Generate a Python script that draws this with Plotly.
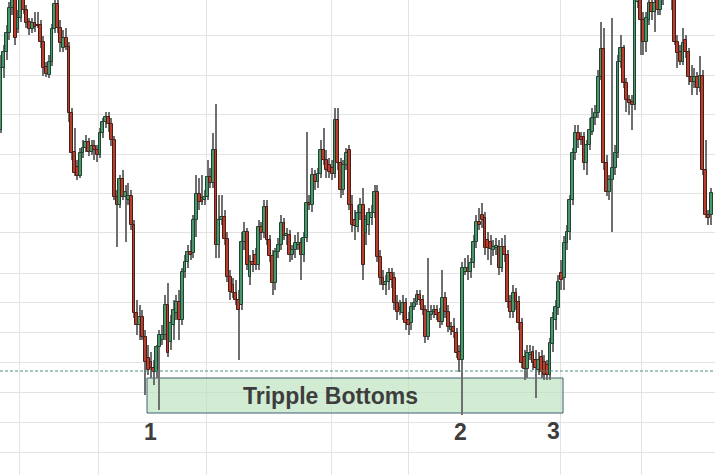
import plotly.graph_objects as go

# OHLC prices (arbitrary price units), one candle per period
open_ = [370,432,448,467,492,504,471,482,502,490,478,471,477,475,475,458,433,425,438,471,
         496,472,452,462,453,387,348,333,324,347,352,358,348,354,350,345,367,378,383,376,
         360,303,295,321,303,300,304,275,187,175,183,163,142,138,132,128,153,160,165,195,
         158,175,187,198,180,228,238,248,247,280,306,302,300,303,323,317,350,255,280,283,
         261,223,215,207,200,195,258,268,223,238,245,235,273,267,293,260,244,217,248,255,
         277,264,265,245,250,255,257,245,262,297,295,325,318,326,350,340,335,332,326,380,
         337,310,335,350,295,280,273,287,295,267,275,282,287,308,243,222,215,218,227,222,
         197,192,187,197,180,177,193,198,205,200,190,163,185,188,190,187,178,202,188,170,
         173,167,148,140,228,232,228,237,258,278,285,282,260,258,250,252,253,232,253,245,
         198,188,207,198,177,143,131,145,148,140,130,143,138,135,125,156,180,192,227,222,
         257,268,300,347,367,363,363,337,355,368,382,387,423,451,337,308,320,332,347,438,
         452,417,400,398,395,498,500,480,458,480,497,488,500,490,502,515,512,520,505,458,
         448,438,460,448,423,418,423,412,424,330,285,285]
high = [445,455,475,498,510,508,490,510,508,495,482,482,488,488,480,464,438,445,476,503,
        503,480,470,472,458,392,372,340,352,360,365,362,360,360,355,372,382,388,388,382,
        364,310,325,330,315,317,310,280,200,195,190,170,155,148,140,155,170,175,205,217,
        185,200,205,210,232,245,255,260,285,325,322,325,310,340,332,367,396,305,305,290,
        268,230,222,220,210,268,278,272,245,250,252,280,278,300,300,265,250,252,262,285,
        282,272,270,255,265,268,262,268,368,305,332,330,332,360,372,350,342,340,392,392,
        342,340,352,355,305,290,295,302,312,285,292,295,315,315,250,230,225,232,232,228,
        205,200,205,202,188,198,202,210,210,205,195,242,195,195,195,192,230,208,195,178,
        182,172,155,238,242,245,242,265,285,292,297,288,268,265,260,262,260,262,265,250,
        205,215,212,204,182,150,155,155,154,150,148,150,145,140,162,188,200,225,240,264,
        275,305,352,375,375,368,368,360,382,392,395,430,478,472,345,325,482,355,445,465,
        455,422,405,405,510,512,505,488,488,503,502,502,505,505,520,520,525,525,510,465,
        455,472,465,452,435,432,428,444,430,360,290,312]
low = [367,422,440,460,485,455,467,478,486,472,465,467,468,472,452,424,423,422,434,467,
       467,448,448,450,378,340,324,320,322,342,348,344,345,340,338,342,362,372,368,354,
       300,253,292,300,258,295,270,182,165,160,160,105,125,122,115,122,90,155,160,143,
       150,160,180,160,175,222,232,240,242,263,290,295,295,300,312,312,242,242,275,255,
       218,200,202,195,140,190,250,230,215,228,230,230,260,262,255,238,205,210,242,250,
       260,255,238,240,242,250,220,238,258,290,288,310,312,322,335,322,322,320,322,330,
       302,305,330,290,268,260,268,280,220,255,265,275,282,238,215,210,205,210,212,190,
       180,185,180,170,165,170,190,195,195,185,157,160,180,182,180,172,175,182,168,165,
       162,142,128,85,225,220,222,232,252,270,272,245,240,235,244,245,225,228,238,192,
       182,182,190,170,132,120,122,140,130,102,125,122,120,120,120,148,170,185,210,210,
       250,260,295,340,352,355,330,325,350,365,375,382,420,330,304,300,268,325,342,432,
       412,388,385,370,390,492,445,445,448,475,480,468,485,485,495,503,505,490,455,432,
       435,435,442,415,405,412,405,408,325,282,275,275]
close = [432,448,467,492,504,462,482,502,490,477,471,477,473,474,458,432,426,438,471,496,
         472,457,462,453,387,347,327,324,347,352,358,348,354,350,345,367,378,383,376,360,
         303,295,321,303,308,304,275,187,175,183,163,138,130,132,128,153,165,165,195,147,
         177,190,198,180,228,238,248,245,280,306,298,298,303,323,317,350,255,280,283,261,
         223,208,207,200,190,258,268,235,238,235,235,273,267,293,260,244,217,248,255,277,
         264,266,245,250,257,257,245,262,297,295,325,318,326,350,340,330,328,326,380,337,
         310,335,347,295,275,274,287,295,235,280,287,287,308,243,222,215,218,227,220,197,
         188,190,197,177,175,193,197,205,200,190,163,188,188,190,185,178,202,188,173,173,
         168,147,140,232,232,228,237,258,278,275,280,252,252,251,253,254,232,253,245,198,
         188,207,198,177,137,131,147,147,137,132,140,128,125,125,157,182,193,218,220,257,
         268,300,347,367,360,360,337,355,370,382,387,423,451,337,308,320,332,347,438,452,
         417,400,397,395,502,505,480,458,482,497,488,497,490,500,515,510,520,505,458,447,
         438,457,448,423,418,423,412,424,330,285,282,307]

# chart furniture (data units)
grid_y = [465, 425, 386, 346, 307, 268, 227, 198, 168, 138, 108, 78, 48]
grid_x = [6.71, 34.28, 72.79, 116.61, 144.17, 197.88, 226.15]
support_level = 129
zone_x = [51.6, 198.6]
zone_y = [87, 122]
zone_label = "Tripple Bottoms"
zone_label_pos = (116.3, 104)
bottom_labels = ["1", "2", "3"]
bottom_label_x = [53.0, 162.5, 195.1]
bottom_label_y = [68, 68, 69]

n = len(open_)
idx = list(range(n))
up = [c >= o for o, c in zip(open_, close)]
body_base = [min(o, c) for o, c in zip(open_, close)]
body_h = [max(abs(c - o), 1.2) for o, c in zip(open_, close)]
fill = ["#4a976b" if u else "#b83f2e" for u in up]
edge = ["#1f4331" if u else "#4a1d16" for u in up]

fig = go.Figure()
fig.add_trace(go.Bar(
    x=idx, base=low, y=[h - l for h, l in zip(high, low)], width=0.36,
    marker=dict(color="#6f6f6f", line=dict(width=0)), hoverinfo="skip"))
fig.add_trace(go.Bar(
    x=idx, base=body_base, y=body_h, width=1.0,
    marker=dict(color=fill, line=dict(color=edge, width=1)), hoverinfo="skip"))

fig.add_shape(type="rect", x0=zone_x[0], x1=zone_x[1], y0=zone_y[0], y1=zone_y[1],
              fillcolor="rgba(188,225,190,0.68)", line=dict(color="#3f5f76", width=1),
              layer="between")
fig.add_shape(type="line", xref="paper", x0=0, x1=1, y0=support_level, y1=support_level,
              line=dict(color="#4f8f7f", width=1, dash="3px,2px"))

fig.add_annotation(x=zone_label_pos[0], y=zone_label_pos[1], text=zone_label, showarrow=False,
                   font=dict(family="Liberation Sans, Arial, sans-serif", size=23,
                             color="#3d3d3d", weight="bold"))
for t, xx, yy in zip(bottom_labels, bottom_label_x, bottom_label_y):
    fig.add_annotation(x=xx, y=yy, text=t, showarrow=False,
                       font=dict(family="Liberation Sans, Arial, sans-serif", size=23,
                                 color="#3d3d3d", weight="bold"))

fig.update_layout(
    width=715, height=475, margin=dict(l=0, r=0, t=0, b=0),
    paper_bgcolor="white", plot_bgcolor="white", showlegend=False,
    barmode="overlay", bargap=0,
    xaxis=dict(range=[-0.35, 252.3], tickvals=grid_x, showticklabels=False, ticks="",
               showgrid=True, gridcolor="#e3e3e3", gridwidth=1, zeroline=False,
               showline=False, fixedrange=True),
    yaxis=dict(range=[25, 500], tickvals=grid_y, showticklabels=False, ticks="",
               showgrid=True, gridcolor="#e3e3e3", gridwidth=1, zeroline=False,
               showline=False, fixedrange=True),
)
fig.write_html("out.html", config={"displayModeBar": False},
               post_script="document.body.style.margin='0px';document.body.style.overflow='hidden';")
